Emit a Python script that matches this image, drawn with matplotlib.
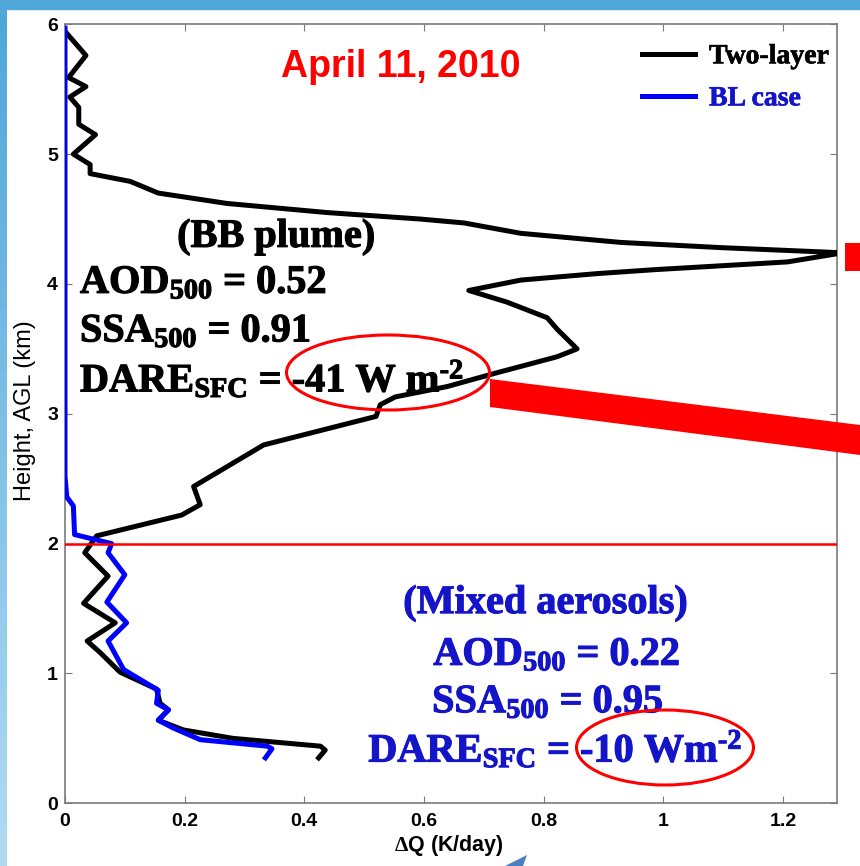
import matplotlib
matplotlib.use("Agg")
import matplotlib.pyplot as plt
import matplotlib.patheffects as pe
from matplotlib.font_manager import findfont, FontProperties
from matplotlib.patches import Polygon, Ellipse, Rectangle

plt.rcParams['mathtext.fontset'] = 'custom'
plt.rcParams['mathtext.rm'] = 'Liberation Serif:bold'
plt.rcParams['mathtext.bf'] = 'Liberation Serif:bold'
plt.rcParams['mathtext.it'] = 'Liberation Serif:bold'

# heating rate profiles (K/day) vs height (km)
two_layer_dq = [0.003, 0.035, 0.006, 0.035, 0.008, 0.023, 0.023, 0.051, 0.014, 0.042,
                0.042, 0.109, 0.156, 0.271, 0.438, 0.594, 0.667, 0.762, 0.929, 1.096,
                1.30, 1.208, 0.985, 0.89, 0.762, 0.675, 0.739, 0.806, 0.823, 0.856,
                0.823, 0.717, 0.639, 0.552, 0.527, 0.520, 0.332, 0.215, 0.226, 0.195,
                0.053, 0.033, 0.072, 0.031, 0.084, 0.037, 0.059, 0.092, 0.153, 0.159,
                0.173, 0.156, 0.198, 0.281, 0.427, 0.435, 0.424]
two_layer_z = [5.93, 5.76, 5.59, 5.52, 5.44, 5.36, 5.23, 5.15, 5.00, 4.92,
               4.85, 4.79, 4.70, 4.62, 4.55, 4.50, 4.47, 4.39, 4.32, 4.28,
               4.24, 4.17, 4.11, 4.08, 4.03, 3.95, 3.86, 3.74, 3.65, 3.50,
               3.44, 3.31, 3.21, 3.13, 3.07, 2.98, 2.76, 2.44, 2.30, 2.22,
               2.06, 1.93, 1.75, 1.54, 1.39, 1.25, 1.16, 1.01, 0.88, 0.77,
               0.72, 0.64, 0.565, 0.50, 0.44, 0.41, 0.35]

bl_dq = [0.0, 0.0, 0.003, 0.014, 0.016, 0.078, 0.072, 0.100, 0.070, 0.103,
         0.072, 0.098, 0.156, 0.153, 0.173, 0.156, 0.181, 0.226, 0.338, 0.346, 0.335]
bl_z = [5.97, 2.52, 2.36, 2.29, 2.07, 2.00, 1.93, 1.76, 1.55, 1.39,
        1.25, 1.03, 0.87, 0.77, 0.72, 0.64, 0.58, 0.49, 0.44, 0.42, 0.35]

x_ticks = [0, 0.2, 0.4, 0.6, 0.8, 1.0, 1.2]
x_tick_labels = ['0', '0.2', '0.4', '0.6', '0.8', '1', '1.2']
y_ticks = [0, 1, 2, 3, 4, 5, 6]

upper_lines = [r'AOD$_{500}$ = 0.52', r'SSA$_{500}$ = 0.91', r'DARE$_{SFC}$ = -41 W m$^{\text{-}2}$']
lower_lines = [r'AOD$_{500}$ = 0.22', r'SSA$_{500}$ = 0.95', r'DARE$_{SFC}$ = -10 Wm$^{\text{-}2}$']

W, H = 860, 866
fig = plt.figure(figsize=(8.6, 8.66), dpi=100)
fig.patch.set_facecolor('white')

# thicken the serif text when no bold face of the font is available
serif_bold_file = findfont(FontProperties(family='Liberation Serif', weight='bold'))
has_bold = 'bold' in serif_bold_file.lower()


def heavy(color, w):
    if has_bold:
        return [pe.withStroke(linewidth=w * 0.4, foreground=color)]
    return [pe.withStroke(linewidth=w, foreground=color, joinstyle='round')]


def fp(x, y):
    # pixel position -> figure fraction
    return (x / W, 1 - y / H)


# slide background strips
fig.patches.append(Rectangle((0, 1 - 9 / H), 1, 9 / H, transform=fig.transFigure,
                             color='#4fa7d9', zorder=0))
n = 40
for i in range(n):
    y0 = 1 - 9 / H - (i + 1) * (1 - 9 / H) / n
    col = (0.31 + 0.39 * i / n, 0.65 + 0.21 * i / n, 0.85 + 0.10 * i / n)
    fig.patches.append(Rectangle((0, y0), 7 / W, (1 - 9 / H) / n + 0.001, transform=fig.transFigure,
                                 color=col, zorder=0, lw=0))

ax = fig.add_axes([65 / W, 1 - 803.3 / H, (836.7 - 65) / W, (803.3 - 24.3) / H])

l1, = ax.plot(two_layer_dq, two_layer_z, color='black', lw=3.6, label='Two-layer', zorder=3)
l2, = ax.plot(bl_dq, bl_z, color='#0000ff', lw=3.6, label='BL case', zorder=4)
ax.axhline(2.0, color='red', lw=1.8, zorder=5)

ax.set_xlim(0, 1.29)
ax.set_ylim(0, 6)
ax.set_xticks(x_ticks)
ax.set_xticklabels(x_tick_labels)
ax.set_yticks(y_ticks)
for s in ax.spines.values():
    s.set_color('#7a7a7a')
    s.set_linewidth(1.2)
ax.tick_params(direction='in', length=5, color='#7a7a7a', top=True, right=True,
               labelsize=14, pad=7)
for lab in ax.get_xticklabels() + ax.get_yticklabels():
    lab.set_fontfamily('Liberation Sans')
    lab.set_fontweight('bold')
ax.tick_params(axis='y', pad=5)

fig.text(25 / W, 1 - 411 / H, 'Height, AGL (km)', rotation=90, ha='center', va='center',
         fontsize=17, family='Liberation Sans')
fig.text(449 / W, 1 - 845 / H, r'$\Delta$Q (K/day)', ha='center', va='center',
         fontsize=15.5, family='Liberation Sans', weight='bold')

leg = ax.legend(handles=[l1, l2], loc='upper right', bbox_to_anchor=(1.022, 1.007),
                frameon=False, handlelength=1.9, handletextpad=0.5, labelspacing=0.6,
                labelcolor=['black', '#1414c8'],
                prop={'family': 'Liberation Serif', 'weight': 'bold', 'size': 20})
for t in leg.get_texts():
    t.set_path_effects(heavy(t.get_color(), 1.1))

ax.text(0.562, 5.594, 'April 11, 2010', color='red', ha='center', va='baseline',
        fontsize=27, family='Liberation Sans', weight='bold')

serif = dict(family='Liberation Serif', weight='bold', fontsize=29, va='baseline')
blue_txt = '#1414c8'
sw = 2.0
ax.text(0.353, 4.286, '(BB plume)', ha='center', color='black',
        path_effects=heavy('black', sw), **serif)
for txt, yy in zip(upper_lines, [3.93, 3.556, 3.171]):
    ax.text(0.025, yy, txt, ha='left', color='black', path_effects=heavy('black', sw), **serif)

ax.text(0.803, 1.465, '(Mixed aerosols)', ha='center', color=blue_txt,
        path_effects=heavy(blue_txt, sw), **serif)
ax.text(0.822, 1.065, lower_lines[0], ha='center', color=blue_txt,
        path_effects=heavy(blue_txt, sw), **serif)
ax.text(0.807, 0.70, lower_lines[1], ha='center', color=blue_txt,
        path_effects=heavy(blue_txt, sw), **serif)
ax.text(0.507, 0.32, lower_lines[2], ha='left', color=blue_txt,
        path_effects=heavy(blue_txt, sw), **serif)

# circled values
fig.patches.append(Ellipse(fp(388, 372.5), 203 / W, 75 / H, transform=fig.transFigure,
                           fill=False, edgecolor='red', lw=2.2, zorder=10))
fig.patches.append(Ellipse(fp(665, 747.5), 177 / W, 75 / H, transform=fig.transFigure,
                           fill=False, edgecolor='red', lw=2.2, zorder=10))

# red arrow bars
fig.patches.append(Polygon([fp(490, 379), fp(860, 425), fp(860, 455), fp(490, 407)],
                           closed=True, transform=fig.transFigure, color='red', lw=0, zorder=10))
fig.patches.append(Polygon([fp(845, 243), fp(860, 243), fp(860, 271), fp(845, 271)],
                           closed=True, transform=fig.transFigure, color='red', lw=0, zorder=10))
fig.patches.append(Polygon([fp(505, 866), fp(527, 855), fp(523, 866)],
                           closed=True, transform=fig.transFigure, color='#4a80c2', lw=0, zorder=10))

fig.savefig('out.png', dpi=100)
